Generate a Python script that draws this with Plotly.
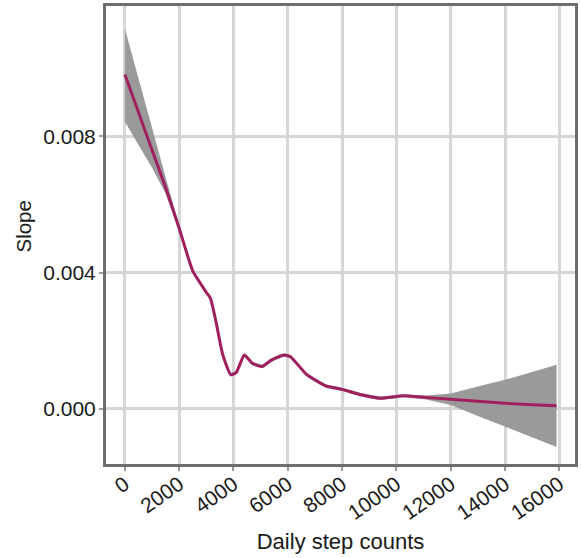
import plotly.graph_objects as go

# Daily step counts (x) and the estimated slope with its confidence band
steps = [0, 500, 1000, 1500, 2000, 2500, 3000, 3150, 3350, 3600, 3900, 4100,
         4400, 4700, 5050, 5400, 5850, 6100, 6700, 7400, 8000, 8700, 9400,
         10250, 11100, 12000, 13000, 14000, 15000, 15900]
slope = [0.00982, 0.00871, 0.00760, 0.00650, 0.00530, 0.00405, 0.00342, 0.00325,
         0.00258, 0.00160, 0.00100, 0.00106, 0.00158, 0.00133, 0.00124, 0.00143,
         0.00158, 0.00153, 0.00100, 0.00067, 0.00057, 0.00041, 0.00031, 0.00038,
         0.00033, 0.00028, 0.00022, 0.00016, 0.00012, 0.00009]
upper = [0.01116, 0.00968, 0.00820, 0.00680, 0.00540, 0.00410, 0.00347, 0.00330,
         0.00263, 0.00165, 0.00105, 0.00111, 0.00163, 0.00138, 0.00129, 0.00148,
         0.00163, 0.00158, 0.00105, 0.00072, 0.00062, 0.00046, 0.00036, 0.00042,
         0.00039, 0.00045, 0.00065, 0.00085, 0.00108, 0.00129]
lower = [0.00843, 0.00776, 0.00708, 0.00632, 0.00520, 0.00400, 0.00337, 0.00320,
         0.00253, 0.00155, 0.00095, 0.00101, 0.00153, 0.00128, 0.00119, 0.00138,
         0.00153, 0.00148, 0.00095, 0.00062, 0.00052, 0.00036, 0.00026, 0.00034,
         0.00027, 0.00011, -0.00021, -0.00053, -0.00084, -0.00112]

x_ticks = [0, 2000, 4000, 6000, 8000, 10000, 12000, 14000, 16000]
y_ticks = [0.0, 0.004, 0.008]

FONT = "Liberation Sans, Arial, sans-serif"
LINE_COLOR = "#A0205F"
BAND_COLOR = "#9A9A9A"
TEXT_COLOR = "#1A1A1A"

fig = go.Figure()
fig.add_trace(go.Scatter(x=steps, y=lower, mode="lines", line=dict(width=0),
                         hoverinfo="skip", showlegend=False))
fig.add_trace(go.Scatter(x=steps, y=upper, mode="lines", line=dict(width=0),
                         fill="tonexty", fillcolor=BAND_COLOR,
                         hoverinfo="skip", showlegend=False))
fig.add_trace(go.Scatter(x=steps, y=slope, mode="lines",
                         line=dict(color=LINE_COLOR, width=3, shape="spline", smoothing=0.5),
                         showlegend=False))

axis_common = dict(
    showline=True, linecolor="#6E6E6E", linewidth=3, mirror=True,
    showgrid=True, gridcolor="#D6D6D6", gridwidth=2.5,
    zeroline=False, ticks="outside", ticklen=4, tickwidth=2, tickcolor="#9A9A9A",
    tickfont=dict(family=FONT, size=21, color=TEXT_COLOR),
)

fig.update_layout(
    width=581, height=558,
    margin=dict(l=106, r=2.5, t=6, b=93.7),
    paper_bgcolor="white", plot_bgcolor="white",
    xaxis=dict(range=[-695, 16578], tickvals=x_ticks,
               ticktext=[str(v) for v in x_ticks], tickangle=-35,
               ticklabelstandoff=-7,
               title=dict(text="Daily step counts",
                          font=dict(family=FONT, size=22, color=TEXT_COLOR),
                          standoff=11),
               **axis_common),
    yaxis=dict(range=[-0.001623, 0.011831], tickvals=y_ticks,
               ticktext=[f"{v:.3f}" for v in y_ticks],
               ticklabelstandoff=-1,
               **axis_common),
)

# y-axis title, placed slightly above the vertical centre of the plot
fig.add_annotation(text="Slope", xref="paper", yref="paper",
                   x=-0.1757, y=0.5176, xanchor="center", yanchor="middle",
                   textangle=-90, showarrow=False,
                   font=dict(family=FONT, size=20.5, color=TEXT_COLOR))

fig.write_html("out.html")
